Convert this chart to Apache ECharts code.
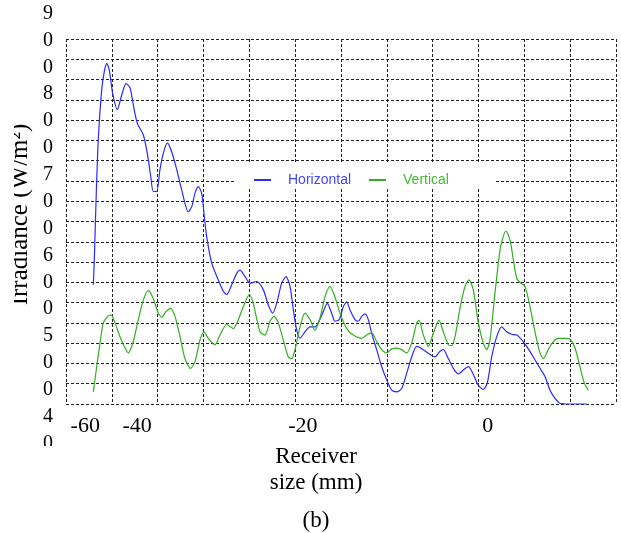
<!DOCTYPE html>
<html>
<head>
<meta charset="utf-8">
<script src="https://cdn.jsdelivr.net/npm/echarts@6/dist/echarts.min.js"></script>
<style>html,body{margin:0;padding:0;background:#fff;}#chart{width:621px;height:533px;}</style>
</head>
<body>
<div id="chart"></div>
<script>
// Series names
const seriesNames = ['Horizontal', 'Vertical'];

// Horizontal series (x in axis units, y irradiance)
const horizontalX = [-42.02,-41.91,-41.73,-41.48,-41.11,-40.82,-40.56,-40.28,-39.91,-39.40,-38.92,-38.45,-38.02,-37.66,-37.22,-36.57,-36.13,-35.76,-35.48,-35.11,-34.75,-34.39,-33.95,-33.47,-32.92,-32.38,-31.66,-31.29,-30.93,-30.57,-30.20,-29.91,-29.65,-29.11,-28.39,-27.84,-27.47,-26.92,-26.38,-26.02,-25.47,-24.93,-24.20,-23.48,-22.93,-22.45,-22.02,-21.47,-21.00,-20.56,-20.20,-19.83,-19.47,-18.93,-18.38,-17.84,-17.48,-17.00,-16.50,-16.02,-15.66,-15.19,-14.75,-14.38,-14.02,-13.47,-13.11,-12.74,-12.38,-12.02,-11.65,-11.11,-10.56,-10.02,-9.47,-8.92,-8.38,-7.83,-7.29,-6.74,-6.02,-5.29,-4.75,-4.20,-3.84,-3.29,-2.75,-2.20,-1.66,-1.11,-0.63,-0.02,0.52,0.96,1.44,1.99,2.53,3.08,3.62,4.17,4.71,5.26,5.98,6.71,7.25,7.80,8.35,8.89,9.98,11.80];
const horizontalY = [597,628,698,776,837,860,870,862,833,813,831,845,840,819,796,782,759,731,712,712,739,759,772,761,739,714,687,693,710,718,710,681,656,624,603,589,585,597,611,615,607,599,601,591,572,562,574,599,607,595,566,541,531,539,545,545,550,562,574,562,552,554,570,576,566,554,552,558,561,554,537,517,496,480,467,465,469,488,508,521,517,511,508,515,517,506,494,487,492,496,488,473,468,476,508,533,545,539,536,535,529,521,508,494,484,467,457,451,450,450];

// Vertical series
const verticalX = [-42.02,-41.65,-41.29,-40.93,-40.45,-40.09,-39.65,-39.11,-38.56,-38.20,-37.66,-37.11,-36.57,-36.02,-35.48,-34.93,-34.56,-34.09,-33.58,-33.11,-32.56,-32.02,-31.40,-30.93,-30.38,-29.95,-29.48,-28.75,-28.20,-27.47,-26.75,-26.20,-25.66,-25.00,-24.57,-23.84,-23.29,-22.75,-22.31,-21.84,-21.30,-20.75,-20.38,-20.02,-19.47,-18.93,-18.38,-17.84,-17.29,-16.75,-16.20,-15.66,-15.11,-14.38,-13.66,-12.74,-12.20,-11.65,-11.11,-10.56,-10.02,-9.47,-8.92,-8.38,-7.83,-7.29,-6.74,-6.49,-6.02,-5.48,-4.93,-4.31,-3.84,-3.29,-2.92,-2.56,-2.02,-1.47,-1.04,-0.57,-0.02,0.52,0.89,1.25,1.80,2.35,2.71,3.00,3.44,3.80,4.17,4.60,5.07,5.62,6.16,6.71,7.07,7.61,8.16,8.71,9.44,9.98,10.53,11.07,11.54,11.98];
const verticalY = [465,496,525,550,558,560,550,533,519,513,527,554,578,590,580,562,557,564,568,558,533,506,494,502,529,539,531,523,535,548,543,554,570,585,574,539,535,552,558,550,529,508,506,517,545,562,554,541,556,582,595,582,562,543,535,531,535,538,527,517,513,518,519,517,513,525,550,553,535,521,537,553,539,523,522,533,568,595,603,591,550,525,517,529,587,640,657,663,652,628,605,599,595,570,539,513,506,517,527,531,531,530,519,496,476,467];

// Tick labels
const xTickLabels = ['-60', '-40', '-20', '0'];
const xTickValues = [-42.9, -37.25, -19.15, 1.0];
const yTickLabels = ['900', '800', '700', '600', '500', '400'];

const pairs = (xs, ys) => xs.map((x, i) => [x, ys[i]]);
const serif = 'Liberation Serif, Times New Roman, serif';
const sans = 'Liberation Sans, Arial, sans-serif';
const gridLine = { show: true, lineStyle: { color: '#222', width: 1, type: [3, 2] } };
const colors = ['#2a2aff', '#30b020'];

const chart = echarts.init(document.getElementById('chart'), null, { renderer: 'canvas' });
chart.setOption({
  animation: false,
  backgroundColor: '#fff',
  grid: [
    { left: 66, right: 5, top: 39, bottom: 129, containLabel: false, outerBoundsMode: 'none' },
    { left: 66, right: 5, top: 40.5, bottom: 89.5, containLabel: false, outerBoundsMode: 'none' }
  ],
  xAxis: [
    {
      type: 'value', gridIndex: 0, min: -45, max: 15, interval: 5,
      axisLine: { show: false }, axisTick: { show: false },
      splitLine: gridLine,
      axisLabel: {
        show: true, customValues: xTickValues,
        formatter: v => { const i = xTickValues.indexOf(v); return i >= 0 ? xTickLabels[i] : ''; },
        fontFamily: serif, fontSize: 22, lineHeight: 22, color: '#000', margin: 11
      },
      name: 'Receiver\nsize (mm)', nameLocation: 'middle', nameGap: 39.5,
      nameTextStyle: { fontFamily: serif, fontSize: 23, lineHeight: 26.5, color: '#000', padding: [0, 50, 0, 0] }
    },
    { type: 'value', gridIndex: 1, min: 0, max: 1, show: false }
  ],
  yAxis: [
    {
      type: 'value', gridIndex: 0, min: 450, max: 900, interval: 25,
      axisLine: { show: false }, axisTick: { show: false }, axisLabel: { show: false },
      splitLine: gridLine,
      name: 'Irradiance (W/m²)', nameLocation: 'middle', nameGap: 33,
      nameTextStyle: { fontFamily: serif, fontSize: 25, color: '#000', padding: [0, 0, 0, 14] }
    },
    {
      type: 'value', gridIndex: 1, min: 400, max: 900, interval: 100,
      axisLine: { show: false }, axisTick: { show: false }, splitLine: { show: false },
      axisLabel: {
        formatter: v => { const s = yTickLabels[yTickLabels.indexOf(String(v))] || ''; return s.split('').join('\n'); },
        fontFamily: serif, fontSize: 20, lineHeight: 26.9, color: '#000', margin: 13
      }
    }
  ],
  legend: {
    left: 234, top: 163, orient: 'horizontal',
    backgroundColor: '#fff', padding: [10, 45, 0, 19],
    itemWidth: 17, itemHeight: 14, itemGap: 17,
    itemStyle: { color: 'rgba(0,0,0,0)', borderColor: 'rgba(0,0,0,0)', borderWidth: 0 },
    textStyle: { fontFamily: sans, fontSize: 14, lineHeight: 14, padding: [0, 0, 0, 12] },
    data: [
      { name: seriesNames[0], textStyle: { color: '#4545ff' } },
      { name: seriesNames[1], textStyle: { color: '#44b833' } }
    ]
  },
  title: {
    text: '(b)', left: 302.5, top: 509, padding: 0,
    textStyle: { fontFamily: serif, fontSize: 23, lineHeight: 23, fontWeight: 'normal', color: '#000' }
  },
  graphic: [
    { type: 'rect', z: 100, shape: { x: 0, y: 0, width: 14, height: 533 }, style: { fill: '#fff' } },
    { type: 'rect', z: 100, shape: { x: 14, y: 446, width: 48, height: 87 }, style: { fill: '#fff' } }
  ],
  series: [
    {
      name: seriesNames[0], type: 'line', xAxisIndex: 0, yAxisIndex: 0,
      data: pairs(horizontalX, horizontalY), symbol: 'none', smooth: 0.25, clip: false,
      lineStyle: { color: colors[0], width: 1.2 }, itemStyle: { color: colors[0] }
    },
    {
      name: seriesNames[1], type: 'line', xAxisIndex: 0, yAxisIndex: 0,
      data: pairs(verticalX, verticalY), symbol: 'none', smooth: 0.25, clip: false,
      lineStyle: { color: colors[1], width: 1.2 }, itemStyle: { color: colors[1] }
    }
  ]
});
</script>
</body>
</html>
